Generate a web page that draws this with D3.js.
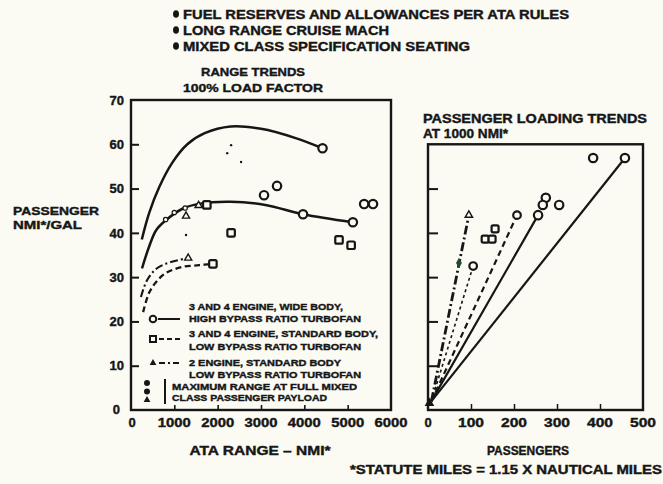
<!DOCTYPE html>
<html>
<head>
<meta charset="utf-8">
<script src="https://cdn.jsdelivr.net/npm/d3@7"></script>
<style>
  html, body { margin: 0; padding: 0; background: #fbfbf4; }
  svg { display: block; }
  text { font-family: "Liberation Sans", Arial, sans-serif; font-weight: bold; fill: #161616; stroke: #161616; stroke-width: 0.4px; }
</style>
</head>
<body>
<svg id="chart" width="663" height="484"></svg>
<script>
// ---- data ----
const rangeTicks = [0, 1000, 2000, 3000, 4000, 5000, 6000];
const efficiencyTicks = [0, 10, 20, 30, 40, 50, 60, 70];
const passengerTicks = [0, 100, 200, 300, 400, 500];
const loadingGridTicks = [10, 20, 30, 40, 50];

const headerNotes = [
  "FUEL RESERVES AND ALLOWANCES PER ATA RULES",
  "LONG RANGE CRUISE MACH",
  "MIXED CLASS SPECIFICATION SEATING"
];

// Range trends: [ATA range (nmi), passenger nmi per gallon]
const wideBodyUpperCurve = [[250, 38.5], [420, 44.5], [650, 50.3], [950, 55.8], [1300, 60], [1700, 62.5], [2300, 64], [3000, 63.5], [3800, 61.4], [4420, 59.1]];
const wideBodyLowerCurve = [[254, 32], [415, 36.8], [580, 40.6], [810, 42.9], [1200, 45.5], [1600, 46.6], [2300, 47], [3100, 46.3], [3970, 44.2], [5120, 42.4]];
const standardBodyCurve = [[280, 22.1], [415, 26.4], [580, 28.9], [800, 30.9], [1180, 32.3], [1570, 32.7], [1890, 33]];
const twoEngineCurve = [[230, 25.5], [370, 29.3], [600, 32], [920, 33.4], [1320, 34.3]];

const wideBodyPoints = [[4420, 59.1], [3970, 44.2], [5120, 42.4], [3070, 48.5], [3370, 50.6], [5380, 46.5], [5585, 46.5]];
const wideBodySmallPoints = [[800, 43], [1000, 44.6], [1250, 45.6]];
const standardBodyPoints = [[1890, 33], [2310, 40], [4800, 38.4], [5080, 37.2], [1750, 46.3]];
const twoEnginePoints = [[1320, 34.3], [1270, 43.8], [1560, 46.2]];
const maxRangeDots = [[2310, 59.8], [2220, 58], [2540, 56], [1270, 39.5]];

// Passenger loading trends at 1000 nmi: [passengers, passenger nmi per gallon]
const loadingOrigin = [8, 2];
const wideBodyLoadingEnds = [[458, 56.9], [256, 44]];
const standardBodyLoadingEnd = [207, 44];
const standardBodyLoadingEndB = [105, 32.5];
const twoEngineLoadingEnd = [95, 44];
const twoEngineLoadingMid = [72, 33.2];
const loadingCircles = [[384, 56.9], [274, 47.9], [267, 46.3], [305, 46.3]];
const loadingSquares = [[156, 40.9], [133, 38.6], [149, 38.6]];

// ---- drawing ----
const ink = "#161616";
const paper = "#fbfbf4";
const svg = d3.select("#chart");

function label(x, y, str, size, opts = {}) {
  const t = svg.append("text")
    .attr("x", x)
    .attr("y", y + 0.36 * size)
    .attr("font-size", size)
    .attr("text-anchor", opts.anchor || "start")
    .text(str);
  if (opts.len) t.attr("textLength", opts.len).attr("lengthAdjust", "spacingAndGlyphs");
  return t;
}

// header notes
const noteRows = [14, 30, 46];
const noteLens = [386, 206, 287];
headerNotes.forEach((s, i) => {
  svg.append("ellipse").attr("cx", 176).attr("cy", noteRows[i]).attr("rx", 3).attr("ry", 3.8).attr("fill", ink);
  label(183, noteRows[i], s, 12.5, { len: noteLens[i] });
});

label(253, 72, "RANGE TRENDS", 11.5, { anchor: "middle", len: 104 });
label(253, 88, "100% LOAD FACTOR", 11.5, { anchor: "middle", len: 140 });

// ---- left chart: range trends ----
const x = d3.scaleLinear().domain([0, 6000]).range([131, 391]);
const y = d3.scaleLinear().domain([0, 70]).range([410, 100]);

svg.append("rect")
  .attr("x", x(0)).attr("y", y(70))
  .attr("width", x(6000) - x(0)).attr("height", y(0) - y(70))
  .attr("fill", "none").attr("stroke", ink).attr("stroke-width", 2.4);

const yAxis = svg.append("g").attr("transform", `translate(${x(0)},0)`)
  .call(d3.axisLeft(y).tickValues(efficiencyTicks.filter(v => v > 0 && v < 70)).tickSize(-8).tickFormat(""));
yAxis.select(".domain").remove();
yAxis.selectAll("line").attr("stroke", ink).attr("stroke-width", 2);

efficiencyTicks.forEach(v => {
  if (v === 0) label(120, y(0) - 1, "0", 13, { anchor: "end" });
  else label(124, y(v), String(v), 13, { anchor: "end" });
});

const xAxis = svg.append("g").attr("transform", `translate(0,${y(0)})`)
  .call(d3.axisBottom(x).tickValues(rangeTicks.filter(v => v > 0 && v < 6000)).tickSize(-5).tickFormat(""));
xAxis.select(".domain").remove();
xAxis.selectAll("line").attr("stroke", ink).attr("stroke-width", 1.6);

rangeTicks.forEach(v => label(x(v) + (v === 0 ? 1 : 0), 422, String(v), 13, { anchor: "middle", len: v === 0 ? null : 33 }));

label(260, 450, "ATA RANGE \u2013 NMI*", 12.5, { anchor: "middle", len: 141 });
label(13, 211, "PASSENGER", 11.5, { len: 86 });
label(13, 225, "NMI*/GAL", 11.5, { len: 69 });

const curve = d3.line().x(d => x(d[0])).y(d => y(d[1])).curve(d3.curveCatmullRom.alpha(0.5));

svg.append("path").attr("d", curve(wideBodyUpperCurve))
  .attr("fill", "none").attr("stroke", ink).attr("stroke-width", 2.5);
svg.append("path").attr("d", curve(wideBodyLowerCurve))
  .attr("fill", "none").attr("stroke", ink).attr("stroke-width", 2.5);
svg.append("path").attr("d", curve(standardBodyCurve))
  .attr("fill", "none").attr("stroke", ink).attr("stroke-width", 2.3).attr("stroke-dasharray", "6,3.5");
svg.append("path").attr("d", curve(twoEngineCurve))
  .attr("fill", "none").attr("stroke", ink).attr("stroke-width", 2.1).attr("stroke-dasharray", "8,3,2,3");

function circles(data, sx, sy, r, sw) {
  svg.append("g").selectAll("circle").data(data).join("circle")
    .attr("cx", d => sx(d[0])).attr("cy", d => sy(d[1])).attr("r", r)
    .attr("fill", paper).attr("stroke", ink).attr("stroke-width", sw);
}
function squares(data, sx, sy, s, sw) {
  svg.append("g").selectAll("rect").data(data).join("rect")
    .attr("x", d => sx(d[0]) - s / 2).attr("y", d => sy(d[1]) - s / 2)
    .attr("width", s).attr("height", s).attr("rx", 1.5)
    .attr("fill", paper).attr("stroke", ink).attr("stroke-width", sw);
}
function triangles(data, sx, sy, s, filled) {
  const sym = d3.symbol().type(d3.symbolTriangle).size(s);
  svg.append("g").selectAll("path").data(data).join("path")
    .attr("transform", d => `translate(${sx(d[0])},${sy(d[1])})`)
    .attr("d", sym)
    .attr("fill", filled ? ink : paper).attr("stroke", ink).attr("stroke-width", 1.4);
}

circles(wideBodyPoints, x, y, 4.2, 2.2);
circles(wideBodySmallPoints, x, y, 2.2, 1.2);
squares(standardBodyPoints, x, y, 7.5, 2.2);
triangles(twoEnginePoints, x, y, 22, false);
svg.append("g").selectAll("circle").data(maxRangeDots).join("circle")
  .attr("cx", d => x(d[0])).attr("cy", d => y(d[1])).attr("r", 1.2).attr("fill", ink);

// legend
const lg = svg.append("g");
lg.append("circle").attr("cx", 153).attr("cy", 319).attr("r", 3.3).attr("fill", "none").attr("stroke", ink).attr("stroke-width", 2);
lg.append("line").attr("x1", 158).attr("x2", 180).attr("y1", 319).attr("y2", 319).attr("stroke", ink).attr("stroke-width", 2);
lg.append("rect").attr("x", 150).attr("y", 336).attr("width", 6).attr("height", 6).attr("fill", "none").attr("stroke", ink).attr("stroke-width", 2);
lg.append("line").attr("x1", 159).attr("x2", 181).attr("y1", 339).attr("y2", 339).attr("stroke", ink).attr("stroke-width", 2).attr("stroke-dasharray", "5,3");
lg.append("path").attr("transform", "translate(153,363)").attr("d", d3.symbol().type(d3.symbolTriangle).size(20)).attr("fill", ink);
lg.append("line").attr("x1", 159).attr("x2", 181).attr("y1", 363).attr("y2", 363).attr("stroke", ink).attr("stroke-width", 2).attr("stroke-dasharray", "6,3,2,3");
lg.append("circle").attr("cx", 147).attr("cy", 383).attr("r", 3).attr("fill", ink);
lg.append("circle").attr("cx", 147).attr("cy", 391.5).attr("r", 3).attr("fill", ink);
lg.append("path").attr("transform", "translate(147,400)").attr("d", d3.symbol().type(d3.symbolTriangle).size(20)).attr("fill", ink);
lg.append("line").attr("x1", 165).attr("x2", 165).attr("y1", 379).attr("y2", 404).attr("stroke", ink).attr("stroke-width", 2);

const legendLines = [
  [189, 307, "3 AND 4 ENGINE, WIDE BODY,", 154],
  [189, 319, "HIGH BYPASS RATIO TURBOFAN", 172],
  [189, 334, "3 AND 4 ENGINE, STANDARD BODY,", 189],
  [189, 347, "LOW BYPASS RATIO TURBOFAN", 172],
  [189, 363, "2 ENGINE, STANDARD BODY", 152],
  [189, 375, "LOW BYPASS RATIO TURBOFAN", 172],
  [172, 387, "MAXIMUM RANGE AT FULL MIXED", 185],
  [172, 398, "CLASS PASSENGER PAYLOAD", 155]
];
legendLines.forEach(([lx, ly, s, len]) => label(lx, ly, s, 9.5, { len }));

// ---- right chart: passenger loading trends ----
const xr = d3.scaleLinear().domain([0, 500]).range([428, 643]);
const yr = d3.scaleLinear().domain([0, 60]).range([y(0), y(60)]);

label(423, 118, "PASSENGER LOADING TRENDS", 12.5, { len: 224 });
label(423, 133, "AT 1000 NMI*", 12.5, { len: 85 });

svg.append("rect")
  .attr("x", xr(0)).attr("y", yr(60))
  .attr("width", xr(500) - xr(0)).attr("height", yr(0) - yr(60))
  .attr("fill", "none").attr("stroke", ink).attr("stroke-width", 2.4);

const yrAxis = svg.append("g").attr("transform", `translate(${xr(0)},0)`)
  .call(d3.axisLeft(yr).tickValues(loadingGridTicks).tickSize(-10).tickFormat(""));
yrAxis.select(".domain").remove();
yrAxis.selectAll("line").attr("stroke", ink).attr("stroke-width", 2);

const xrAxis = svg.append("g").attr("transform", `translate(0,${yr(0)})`)
  .call(d3.axisBottom(xr).tickValues(passengerTicks.filter(v => v > 0 && v < 500)).tickSize(-6).tickFormat(""));
xrAxis.select(".domain").remove();
xrAxis.selectAll("line").attr("stroke", ink).attr("stroke-width", 1.5);

passengerTicks.forEach(v => label(xr(v), 422, String(v), 13, { anchor: "middle", len: v === 0 ? null : 26 }));
label(528, 450, "PASSENGERS", 12.5, { anchor: "middle", len: 82 });
label(350, 469, "*STATUTE MILES = 1.15 X NAUTICAL MILES", 12.5, { len: 312 });

const straight = d3.line().x(d => xr(d[0])).y(d => yr(d[1]));
wideBodyLoadingEnds.forEach(end => {
  svg.append("path").attr("d", straight([loadingOrigin, end]))
    .attr("fill", "none").attr("stroke", ink).attr("stroke-width", 2.2);
});
svg.append("path").attr("d", straight([loadingOrigin, standardBodyLoadingEnd]))
  .attr("fill", "none").attr("stroke", ink).attr("stroke-width", 2.2).attr("stroke-dasharray", "6,4");
svg.append("path").attr("d", straight([loadingOrigin, standardBodyLoadingEndB]))
  .attr("fill", "none").attr("stroke", ink).attr("stroke-width", 1.6).attr("stroke-dasharray", "3,3");
svg.append("path").attr("d", straight([loadingOrigin, twoEngineLoadingEnd]))
  .attr("fill", "none").attr("stroke", ink).attr("stroke-width", 2.8).attr("stroke-dasharray", "9,3,2,3");

svg.append("path")
  .attr("d", d3.symbol().type(d3.symbolTriangle).size(40))
  .attr("transform", `translate(${xr(loadingOrigin[0]) - 2},${yr(loadingOrigin[1]) + 2})`)
  .attr("fill", ink);

circles(wideBodyLoadingEnds, xr, yr, 4.2, 2.2);
circles(loadingCircles, xr, yr, 4.2, 2.2);
circles([standardBodyLoadingEnd, standardBodyLoadingEndB], xr, yr, 3.8, 2.2);
squares(loadingSquares, xr, yr, 7, 2.2);
triangles([twoEngineLoadingEnd], xr, yr, 24, false);
svg.append("path")
  .attr("d", d3.symbol().type(d3.symbolDiamond).size(30))
  .attr("transform", `translate(${xr(twoEngineLoadingMid[0])},${yr(twoEngineLoadingMid[1])})`)
  .attr("fill", "#234a2c");
</script>
</body>
</html>
